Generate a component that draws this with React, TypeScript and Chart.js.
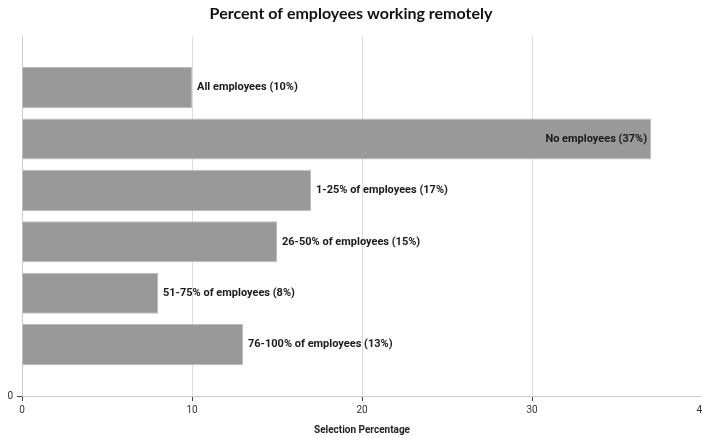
import React, { useEffect, useRef } from "react";
import { Chart, registerables } from "chart.js";

Chart.register(...registerables);

const title = "Percent of employees working remotely";
const xAxisTitle = "Selection Percentage";
const categories = [
  "All employees",
  "No employees",
  "1-25% of employees",
  "26-50% of employees",
  "51-75% of employees",
  "76-100% of employees",
];
const values = [10, 37, 17, 15, 8, 13];
const xMin = 0;
const xMax = 40;
const xStep = 10;

const FONT = "Roboto, 'Liberation Sans', sans-serif";

const labelPlugin = {
  id: "barLabels",
  afterDatasetsDraw(chart: any) {
    const ctx = chart.ctx;
    const meta = chart.getDatasetMeta(0);
    const maxV = Math.max(...values);
    ctx.save();
    ctx.font = `bold 11px ${FONT}`;
    ctx.fillStyle = "#1a1a1a";
    ctx.textBaseline = "middle";
    meta.data.forEach((el: any, i: number) => {
      const text = `${categories[i]} (${values[i]}%)`;
      if (values[i] === maxV) {
        ctx.textAlign = "right";
        ctx.fillText(text, el.x - 4, el.y);
      } else {
        ctx.textAlign = "left";
        ctx.fillText(text, el.x + 5, el.y);
      }
    });
    ctx.restore();
  },
};

export default function App() {
  const ref = useRef<HTMLCanvasElement>(null);
  useEffect(() => {
    if (!ref.current) return;
    const n = categories.length;
    const chart = new Chart(ref.current, {
      type: "bar",
      data: {
        datasets: [
          {
            data: values.map((v, i) => ({ x: v, y: n - i })),
            backgroundColor: "#999999",
            borderColor: "#bdbdbd",
            borderWidth: 1,
            categoryPercentage: 0.8,
            barPercentage: 1,
          },
        ],
      },
      options: {
        indexAxis: "y",
        animation: false,
        responsive: false,
        maintainAspectRatio: false,
        layout: { padding: 0 },
        plugins: {
          legend: { display: false },
          tooltip: { enabled: false },
          title: {
            display: true,
            text: title,
            color: "#111",
            font: { family: "Lato, sans-serif", size: 16, weight: "bold" },
            padding: { top: 4, bottom: 13 },
          },
        },
        scales: {
          x: {
            type: "linear",
            min: xMin,
            max: xMax,
            ticks: {
              stepSize: xStep,
              color: "#333",
              font: { family: FONT, size: 10 },
              padding: 3,
            },
            grid: {
              color: "#dddddd",
              tickColor: "#444",
              tickLength: 5,
            },
            border: { color: "#cccccc" },
            title: {
              display: true,
              text: xAxisTitle,
              color: "#222",
              font: { family: FONT, size: 10, weight: "bold" },
              padding: { top: 0, bottom: 2 },
            },
            afterFit(scale: any) {
              scale.height = 42;
              scale.paddingRight = 0;
              scale.paddingLeft = 0;
            },
          },
          y: {
            type: "linear",
            min: 0,
            max: n + 1,
            offset: false,
            ticks: {
              stepSize: 1,
              autoSkip: false,
              color: "#333",
              font: { family: FONT, size: 10 },
              padding: 4,
              callback: (v: any) => (Number(v) === 0 ? "0" : ""),
            },
            grid: {
              offset: false,
              drawOnChartArea: false,
              drawTicks: true,
              tickColor: "#444",
              tickWidth: (c: any) => (c.index === 0 ? 1 : 0),
              tickLength: 5,
            },
            border: { color: "#cccccc" },
            afterFit(scale: any) {
              scale.width = 22;
              scale.paddingTop = 0;
              scale.paddingBottom = 0;
            },
          },
        },
      },
      plugins: [labelPlugin],
    } as any);
    return () => chart.destroy();
  }, []);
  return (
    <div style={{ position: "fixed", left: 0, top: 0, width: 702, height: 438, overflow: "hidden", background: "#fff" }}>
      <canvas ref={ref} width={702} height={438} style={{ width: 702, height: 438, display: "block" }} />
    </div>
  );
}
